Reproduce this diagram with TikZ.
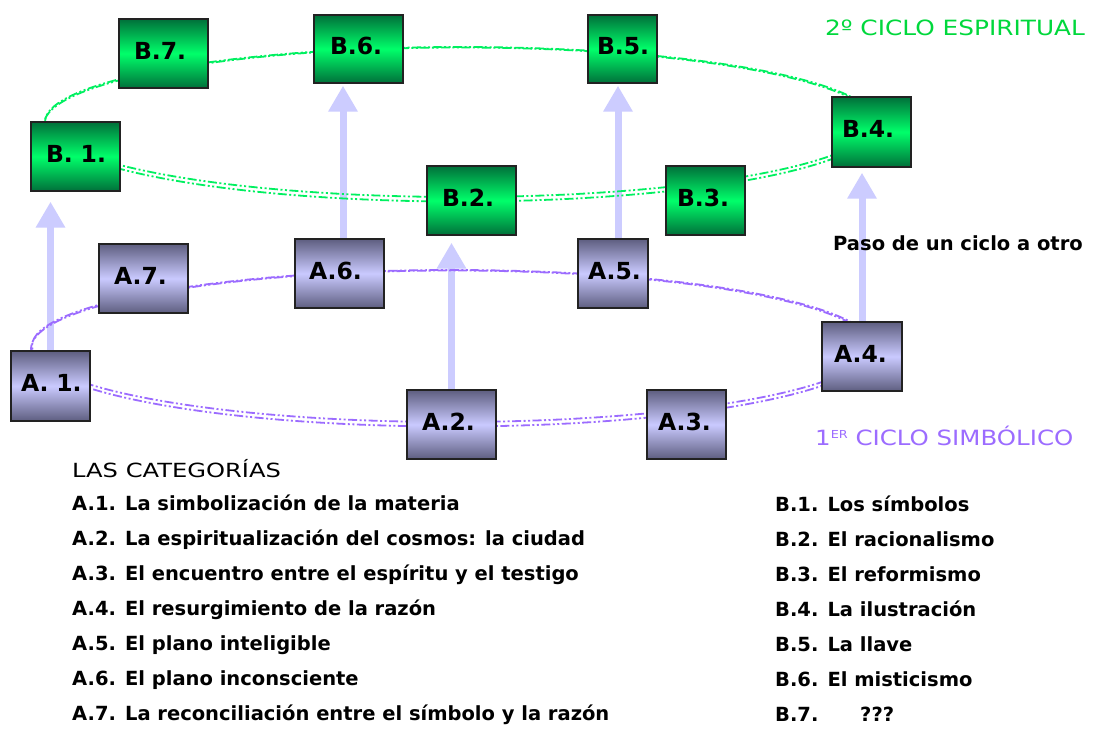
\documentclass[tikz,border=0pt]{standalone}
\usepackage{fontspec}
\usepackage{graphicx}
\setmainfont{DejaVu Sans}
\usetikzlibrary{arrows.meta}

\definecolor{gdark}{HTML}{00703A}
\definecolor{glight}{HTML}{00FF6A}
\definecolor{adark}{HTML}{5E5E80}
\definecolor{alight}{HTML}{CACAFF}
\definecolor{gring}{HTML}{00F060}
\definecolor{pring}{HTML}{9C6CFF}
\definecolor{gtitle}{HTML}{00D83C}
\definecolor{ptitle}{HTML}{9C6CFF}
\definecolor{uparr}{HTML}{CCCCFF}
\definecolor{boxline}{HTML}{222222}

\pgfdeclarelayer{paper}
\pgfdeclarelayer{links}
\pgfdeclarelayer{rings}
\pgfsetlayers{paper,links,rings,main}

\tikzset{
  cell/.style n args={2}{draw=boxline, line width=1.4pt, rectangle,
    inner ysep=0pt, inner xsep=#2pt, text width=#1pt, align=left,
    text height=17pt, text depth=6pt,
    font=\fontsize{23.5}{23.5}\selectfont\bfseries},
  gcell/.style={top color=gdark, bottom color=gdark, middle color=glight},
  acell/.style={top color=adark, bottom color=adark, middle color=alight},
  ringline/.style={line width=1.8pt,
    dash pattern=on 9pt off 2.5pt on 2pt off 2.5pt on 2pt off 2.5pt},
  uplink/.style={uparr, line width=7pt,
    -{Triangle[width=28pt,length=26pt]}},
  itemtext/.style={anchor=base west, inner sep=0pt,
    font=\fontsize{19.5}{19.5}\selectfont\bfseries},
}

\begin{document}
\begin{tikzpicture}[x=1pt,y=-1pt]
\begin{pgfonlayer}{paper}
\fill[white] (0,0) rectangle (1093,729);
\end{pgfonlayer}
\useasboundingbox (0,0) rectangle (1093,729);

% ---- boxes of the second (spiritual) cycle
\node[cell={59}{15}, gcell, minimum width=89pt, minimum height=69pt] (b7) at (163.5,53.5) {B.7.};
\node[cell={57}{16}, gcell, minimum width=89pt, minimum height=68pt] (b6) at (358.5,49) {B.6.};
\node[cell={55}{7}, gcell, minimum width=69pt, minimum height=68pt] (b5) at (622.5,49) {\hspace*{2pt}B.5.};
\node[cell={59}{15}, gcell, minimum width=89pt, minimum height=69pt] (b1) at (75.5,156.5) {B.~1.};
\node[cell={59}{15}, gcell, minimum width=89pt, minimum height=69pt] (b2) at (471.5,200.5) {B.2.};
\node[cell={57}{11}, gcell, minimum width=79pt, minimum height=69pt] (b3) at (705.5,200.5) {B.3.};
\node[cell={59}{10}, gcell, minimum width=79pt, minimum height=70pt] (b4) at (871.5,132) {B.4.};

% ---- boxes of the first (symbolic) cycle
\node[cell={59}{15}, acell, minimum width=89pt, minimum height=69pt] (a7) at (143.5,278.5) {A.7.};
\node[cell={61}{14}, acell, minimum width=89pt, minimum height=69pt] (a6) at (339.5,273.5) {A.6.};
\node[cell={67}{6}, acell, minimum width=79pt, minimum height=70pt] (a1) at (50.5,386) {\hspace*{4pt}A.~1.};
\node[cell={56}{7}, acell, minimum width=70pt, minimum height=69pt] (a5) at (613,273.5) {\hspace*{3pt}A.5.};
\node[cell={59}{15}, acell, minimum width=89pt, minimum height=69pt] (a2) at (451.5,424.5) {A.2.};
\node[cell={57}{11}, acell, minimum width=79pt, minimum height=69pt] (a3) at (686.5,424.5) {A.3.};
\node[cell={56}{12}, acell, minimum width=80pt, minimum height=69pt] (a4) at (862,356.5) {A.4.};

% ---- upward links from one cycle to the next
\begin{pgfonlayer}{links}
\draw[uplink, shorten >=10pt] (a1.north) -- (a1.north |- b1.south);
\draw[uplink, shorten >=2pt] ([xshift=3.5pt]a6.north) -- ([xshift=3.5pt]a6.north |- b6.south);
\draw[uplink, shorten >=7pt] (a2.north) -- (a2.north |- b2.south);
\draw[uplink, shorten >=2pt] ([xshift=5pt]a5.north) -- ([xshift=5pt]a5.north |- b5.south);
\draw[uplink, shorten >=5pt] (a4.north) -- (a4.north |- b4.south);
\end{pgfonlayer}

% ---- the two rings, drawn as doubled dash-dot-dot ellipses
\begin{pgfonlayer}{rings}
\draw[ringline, gring] (460,122) ellipse [x radius=415, y radius=75];
\draw[ringline, gring, dash phase=7pt] (460,124.5) ellipse [x radius=416, y radius=77];
\draw[ringline, pring] (452,346) ellipse [x radius=420, y radius=76];
\draw[ringline, pring, dash phase=7pt] (452,348.5) ellipse [x radius=421, y radius=78];
\end{pgfonlayer}

% ---- cycle titles and the link caption
\node[anchor=base west, inner sep=0pt, text=gtitle, font=\fontsize{21}{21}\selectfont]
  (title2) at (825,35) {\scalebox{1.18}[1]{2º CICLO ESPIRITUAL}};
\node[anchor=base west, inner sep=0pt, text=ptitle, font=\fontsize{21}{21}\selectfont]
  (title1) at (815,445.5) {\scalebox{1.165}[1]{1\raisebox{7pt}{\fontsize{11}{11}\selectfont ER} CICLO SIMBÓLICO}};
\node[itemtext] (paso) at (833,250) {Paso de un ciclo a otro};

% ---- list of categories
\node[anchor=base west, inner sep=0pt, font=\fontsize{19.5}{19.5}\selectfont]
  (head) at (72,477) {\scalebox{1.24}[1]{LAS CATEGORÍAS}};
\node[itemtext] (la1) at (72,510) {A.1. La simbolización de la materia};
\node[itemtext] (la2) at (72,545) {A.2. La espiritualización del cosmos: la ciudad};
\node[itemtext] (la3) at (72,580) {A.3. El encuentro entre el espíritu y el testigo};
\node[itemtext] (la4) at (72,615) {A.4. El resurgimiento de la razón};
\node[itemtext] (la5) at (72,650) {A.5. El plano inteligible};
\node[itemtext] (la6) at (72,685) {A.6. El plano inconsciente};
\node[itemtext] (la7) at (72,720) {A.7. La reconciliación entre el símbolo y la razón};

\node[itemtext] (lb1) at (775,511) {B.1. Los símbolos};
\node[itemtext] (lb2) at (775,546) {B.2. El racionalismo};
\node[itemtext] (lb3) at (775,581) {B.3. El reformismo};
\node[itemtext] (lb4) at (775,616) {B.4. La ilustración};
\node[itemtext] (lb5) at (775,651) {B.5. La llave};
\node[itemtext] (lb6) at (775,686) {B.6. El misticismo};
\node[itemtext] (lb7) at (775,721) {\makebox[85pt][l]{B.7.}???};
\end{tikzpicture}
\end{document}
